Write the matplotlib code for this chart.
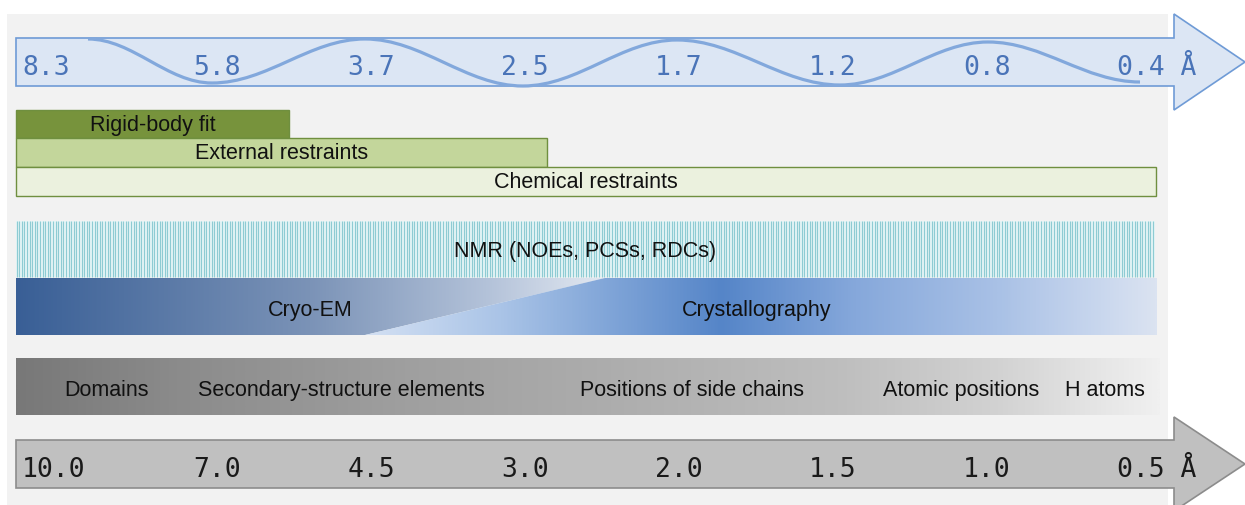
import numpy as np
import matplotlib
matplotlib.use('Agg')
import matplotlib.pyplot as plt
from matplotlib.patches import Polygon, Rectangle, PathPatch
from matplotlib.path import Path
from matplotlib.colors import LinearSegmentedColormap

# resolution scales (Angstrom)
top_scale = ['8.3', '5.8', '3.7', '2.5', '1.7', '1.2', '0.8', '0.4']
bottom_scale = ['10.0', '7.0', '4.5', '3.0', '2.0', '1.5', '1.0', '0.5']

# restraint bars and how far along the scale (in scale slots) they reach
restraints = ['Rigid-body fit', 'External restraints', 'Chemical restraints']
restraint_reach = [1.47, 3.14, 7.10]
restraint_colors = ['#77933c', '#c3d69b', '#ebf1de']

methods = ['NMR (NOEs, PCSs, RDCs)', 'Cryo-EM', 'Crystallography']
features = ['Domains', 'Secondary-structure elements', 'Positions of side chains',
            'Atomic positions', 'H atoms']
feature_x = [106, 341, 692, 961, 1105]

SLOT0, SLOT = 63, 154


def slot_px(s):
    return SLOT0 + SLOT * s


def gradient(ax, x0, x1, y0, y1, stops, clip=None):
    cmap = LinearSegmentedColormap.from_list('g', stops)
    im = ax.imshow(np.linspace(0, 1, 512)[None, :], cmap=cmap, aspect='auto',
                   extent=(x0, x1, y1, y0), interpolation='bilinear', zorder=2)
    if clip is not None:
        im.set_clip_path(clip)
    return im


def arrow(ax, y_top, y_bot, head_top, head_bot, fc, ec):
    xh = 1174
    pts = [(16, y_top), (xh, y_top), (xh, head_top), (1245, (head_top + head_bot) / 2),
           (xh, head_bot), (xh, y_bot), (16, y_bot)]
    ax.add_patch(Polygon(pts, closed=True, fc=fc, ec=ec, lw=1.2, zorder=3))


def scale_labels(ax, labels, y, color):
    for i, lab in enumerate(labels):
        kw = dict(fontsize=19, family='DejaVu Sans Mono', color=color, va='baseline', zorder=6)
        if i == 0:
            ax.text(22, y, lab, ha='left', **kw)
        elif i == len(labels) - 1:
            ax.text(slot_px(i) - 24, y, lab + ' Å', ha='left', **kw)
        else:
            ax.text(slot_px(i), y, lab, ha='center', **kw)


fig = plt.figure(figsize=(12.45, 5.05), dpi=100)
ax = fig.add_axes([0, 0, 1, 1])
ax.set_xlim(0, 1245)
ax.set_ylim(505, 0)
ax.axis('off')

# light grey panel
ax.add_patch(Rectangle((7, 14), 1161, 495, fc='#f2f2f2', ec='none', zorder=0))

# top arrow with wave
arrow(ax, 38, 86, 14, 110, '#dce6f4', '#6f9bd6')
wave = [(88, 39), (212, 83), (365, 39), (523, 86), (677, 40), (840, 85), (988, 42), (1140, 82)]
verts = [wave[0]]
codes = [Path.MOVETO]
for (xa, ya), (xb, yb) in zip(wave[:-1], wave[1:]):
    d = (xb - xa) * 0.36
    verts += [(xa + d, ya), (xb - d, yb), (xb, yb)]
    codes += [Path.CURVE4] * 3
ax.add_patch(PathPatch(Path(verts, codes), fc='none', ec='#82a8dc', lw=2.3, zorder=4,
                       capstyle='butt'))
scale_labels(ax, top_scale, 75, '#4a74b8')

# restraint bars
tops = [110, 138, 167]
for name, reach, col, top in zip(restraints, restraint_reach, restraint_colors, tops):
    x1 = slot_px(reach)
    ax.add_patch(Rectangle((16, top), x1 - 16, 29 if top != 110 else 28, fc=col,
                           ec='#6f8f3f', lw=1, zorder=3))
    ax.text((16 + x1) / 2, top + 21, name, ha='center', va='baseline', fontsize=15.5,
            family='Liberation Sans', color='#111111', zorder=6)

# NMR band
ax.add_patch(Rectangle((16, 221), 1139, 56, fc='#eaf7f8', ec='none', zorder=2))
ax.vlines(np.arange(16.5, 1155, 2.6), 221, 277, color='#8ecbd3', lw=0.9, zorder=3)
ax.text(585, 257, methods[0], ha='center', va='baseline', fontsize=15.5,
        family='Liberation Sans', color='#111111', zorder=6)

# cryo-EM / crystallography band
cryo_poly = Polygon([(16, 278), (605, 278), (365, 335), (16, 335)], closed=True,
                    fc='none', ec='none', zorder=1)
xtal_poly = Polygon([(365, 335), (605, 278), (1157, 278), (1157, 335)], closed=True,
                    fc='none', ec='none', zorder=1)
ax.add_patch(cryo_poly)
ax.add_patch(xtal_poly)
gradient(ax, 16, 605, 278, 335,
         [(0, '#395f96'), (0.5, '#7b93b7'), (0.8, '#b3c2d9'), (1, '#e2e8f1')], clip=cryo_poly)
gradient(ax, 365, 1157, 278, 335,
         [(0, '#d3e0f3'), (0.17, '#aac4e7'), (0.45, '#5585c8'), (0.62, '#86a8db'),
          (0.8, '#a9c1e6'), (0.93, '#c9d7ee'), (1, '#dbe3f1')], clip=xtal_poly)
ax.text(310, 316, methods[1], ha='center', va='baseline', fontsize=15.5,
        family='Liberation Sans', color='#111111', zorder=6)
ax.text(757, 316, methods[2], ha='center', va='baseline', fontsize=15.5,
        family='Liberation Sans', color='#111111', zorder=6)

# structural features band
gradient(ax, 16, 1160, 358, 415,
         [(0, '#787878'), (0.14, '#8b8b8b'), (0.34, '#9f9f9f'), (0.52, '#adadad'),
          (0.72, '#bebebe'), (0.86, '#d2d2d2'), (0.95, '#e6e6e6'), (1, '#f0f0f0')])
for lab, x in zip(features, feature_x):
    ax.text(x, 396, lab, ha='center', va='baseline', fontsize=15.5,
            family='Liberation Sans', color='#111111', zorder=6)

# bottom arrow
arrow(ax, 440, 488, 417, 511, '#c0c0c0', '#8c8c8c')
scale_labels(ax, bottom_scale, 477, '#1a1a1a')

ax.set_xlim(0, 1245)
ax.set_ylim(505, 0)
fig.savefig('out.png', dpi=100)
